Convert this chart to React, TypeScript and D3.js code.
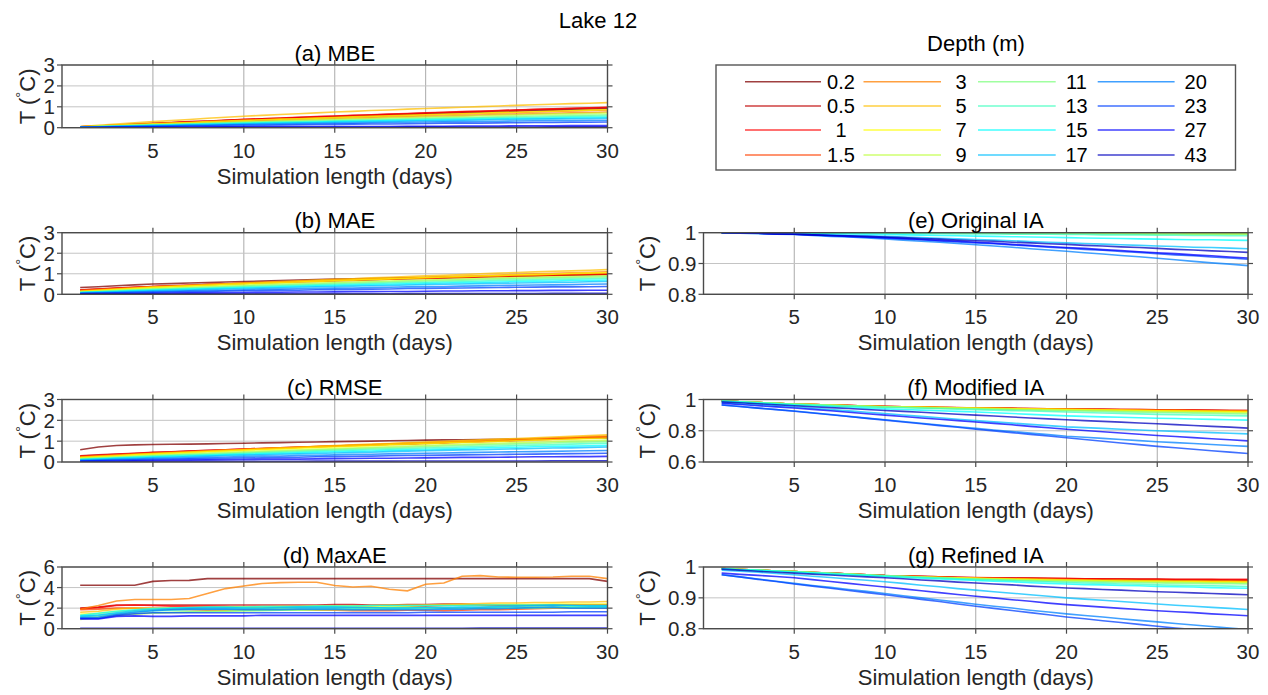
import React from 'react';
import * as d3 from 'd3';

const DAYS = [1,2,3,4,5,6,7,8,9,10,11,12,13,14,15,16,17,18,19,20,21,22,23,24,25,26,27,28,29,30];
const DEPTHS = ['0.2','0.5','1','1.5','3','5','7','9','11','13','15','17','20','23','27','43'];
const COLORS = ['rgb(128,0,0)','rgb(191,0,0)','rgb(255,0,0)','rgb(255,64,0)','rgb(255,128,0)','rgb(255,191,0)','rgb(255,255,0)','rgb(191,255,64)','rgb(128,255,128)','rgb(64,255,191)','rgb(0,255,255)','rgb(0,191,255)','rgb(0,128,255)','rgb(0,64,255)','rgb(0,0,255)','rgb(0,0,191)'];
const X_TICKS = [5,10,15,20,25,30];

// (a) MBE, one row per depth
const MBE: number[][] = [
  [.04,.08,.12,.16,.20,.23,.27,.30,.34,.37,.40,.43,.46,.49,.52,.55,.58,.60,.63,.66,.69,.71,.74,.76,.79,.82,.84,.87,.89,.92],
  [.04,.08,.12,.16,.20,.24,.28,.31,.35,.39,.42,.45,.49,.52,.55,.58,.61,.64,.67,.70,.73,.76,.78,.81,.84,.87,.89,.92,.94,.97],
  [.04,.08,.13,.17,.21,.25,.29,.32,.36,.40,.43,.46,.50,.53,.56,.59,.62,.65,.68,.71,.74,.77,.79,.82,.85,.88,.90,.93,.95,.98],
  [.04,.08,.11,.15,.18,.21,.24,.28,.31,.34,.37,.40,.42,.45,.48,.51,.53,.56,.58,.61,.63,.66,.68,.71,.73,.75,.78,.80,.83,.85],
  [.04,.07,.10,.13,.16,.19,.22,.24,.27,.30,.33,.35,.38,.40,.43,.45,.47,.50,.52,.54,.56,.58,.61,.63,.65,.67,.69,.71,.73,.75],
  [.05,.11,.17,.23,.29,.34,.39,.45,.50,.55,.59,.63,.67,.71,.75,.78,.82,.85,.89,.92,.95,.98,1.01,1.04,1.07,1.10,1.12,1.15,1.17,1.20],
  [.04,.08,.12,.15,.19,.22,.25,.29,.32,.35,.38,.41,.43,.46,.49,.52,.54,.57,.59,.62,.64,.67,.69,.72,.74,.76,.79,.81,.84,.86],
  [.03,.06,.09,.12,.15,.18,.20,.23,.25,.28,.30,.33,.35,.38,.40,.42,.44,.47,.49,.51,.53,.55,.57,.59,.61,.63,.65,.66,.68,.70],
  [.03,.06,.08,.11,.13,.15,.18,.20,.23,.25,.27,.29,.31,.33,.35,.37,.39,.41,.43,.45,.47,.49,.50,.52,.54,.56,.57,.59,.60,.62],
  [.03,.05,.07,.10,.12,.14,.16,.19,.21,.23,.25,.27,.28,.30,.32,.34,.36,.37,.39,.41,.43,.44,.46,.47,.49,.50,.52,.53,.55,.56],
  [.02,.04,.07,.09,.11,.13,.15,.16,.18,.20,.22,.24,.25,.27,.29,.31,.32,.34,.35,.37,.38,.40,.41,.43,.44,.45,.46,.48,.49,.50],
  [.02,.04,.06,.08,.10,.12,.13,.15,.16,.18,.20,.21,.23,.24,.26,.27,.29,.30,.32,.33,.34,.36,.37,.39,.40,.41,.42,.43,.44,.45],
  [.02,.03,.05,.06,.08,.09,.11,.12,.14,.15,.16,.17,.19,.20,.21,.22,.24,.25,.26,.27,.28,.29,.30,.31,.32,.33,.34,.34,.35,.36],
  [.01,.02,.04,.05,.06,.07,.08,.09,.10,.11,.12,.13,.14,.15,.16,.17,.18,.18,.19,.20,.21,.22,.22,.23,.24,.25,.25,.26,.26,.27],
  [.01,.01,.02,.02,.03,.03,.03,.04,.04,.04,.04,.05,.05,.05,.06,.06,.06,.06,.07,.07,.07,.08,.08,.08,.09,.09,.09,.10,.10,.10],
  [.01,.01,.01,.01,.01,.01,.01,.01,.02,.02,.02,.02,.02,.02,.02,.02,.02,.02,.03,.03,.03,.03,.03,.03,.03,.03,.04,.04,.04,.04],
];

// (b) MAE
const MAE: number[][] = [
  [.33,.37,.42,.46,.50,.52,.55,.57,.60,.62,.64,.67,.69,.72,.74,.76,.77,.79,.80,.82,.84,.85,.87,.88,.90,.91,.93,.94,.96,.97],
  [.22,.26,.30,.34,.38,.41,.44,.47,.50,.53,.56,.58,.61,.63,.66,.68,.70,.73,.75,.77,.79,.81,.84,.86,.88,.90,.92,.94,.96,.98],
  [.21,.25,.30,.34,.38,.41,.44,.48,.51,.54,.57,.60,.62,.65,.68,.70,.73,.75,.78,.80,.82,.84,.86,.88,.90,.92,.94,.96,.98,1.0],
  [.19,.24,.28,.33,.37,.40,.43,.47,.50,.53,.56,.59,.61,.64,.67,.70,.72,.75,.77,.80,.82,.84,.87,.89,.91,.93,.95,.98,1.0,1.02],
  [.17,.22,.27,.31,.36,.39,.43,.46,.50,.53,.56,.59,.63,.66,.69,.72,.75,.77,.80,.83,.86,.89,.91,.94,.97,1.0,1.02,1.05,1.07,1.10],
  [.15,.20,.25,.30,.35,.39,.43,.47,.51,.55,.59,.62,.66,.69,.73,.76,.80,.83,.87,.90,.93,.96,1.0,1.03,1.06,1.09,1.12,1.14,1.17,1.20],
  [.13,.18,.23,.28,.33,.36,.40,.43,.47,.50,.53,.56,.60,.63,.66,.69,.72,.75,.78,.81,.84,.86,.89,.91,.94,.96,.98,1.01,1.03,1.05],
  [.11,.15,.20,.24,.28,.31,.34,.38,.41,.44,.47,.50,.52,.55,.58,.60,.63,.65,.68,.70,.72,.74,.77,.79,.81,.83,.85,.86,.88,.90],
  [.10,.14,.18,.21,.25,.28,.31,.34,.37,.40,.43,.45,.48,.50,.53,.55,.58,.60,.63,.65,.67,.69,.72,.74,.76,.78,.80,.81,.83,.85],
  [.09,.12,.16,.19,.22,.25,.28,.30,.33,.36,.38,.41,.43,.46,.48,.50,.52,.55,.57,.59,.61,.63,.65,.67,.69,.71,.73,.74,.76,.78],
  [.08,.11,.14,.17,.20,.22,.25,.27,.30,.32,.34,.36,.39,.41,.43,.45,.47,.49,.51,.53,.55,.57,.58,.60,.62,.64,.65,.67,.68,.70],
  [.07,.10,.12,.15,.17,.19,.21,.24,.26,.28,.30,.32,.34,.36,.38,.40,.42,.43,.45,.47,.49,.50,.52,.53,.55,.56,.58,.59,.61,.62],
  [.05,.07,.09,.11,.13,.15,.17,.18,.20,.22,.24,.25,.27,.28,.30,.31,.33,.34,.36,.37,.38,.40,.41,.43,.44,.45,.46,.47,.49,.50],
  [.04,.06,.07,.09,.10,.11,.13,.14,.16,.17,.18,.19,.20,.22,.23,.24,.25,.26,.28,.29,.30,.31,.32,.33,.34,.35,.36,.36,.37,.38],
  [.02,.03,.04,.04,.05,.06,.07,.07,.08,.09,.10,.10,.11,.11,.12,.13,.13,.14,.14,.15,.16,.16,.17,.17,.18,.18,.19,.19,.20,.20],
  [.01,.01,.01,.02,.02,.02,.02,.02,.02,.02,.02,.02,.03,.03,.03,.03,.03,.03,.04,.04,.04,.04,.04,.04,.04,.04,.05,.05,.05,.05],
];

// (c) RMSE
const RMSE: number[][] = [
  [.59,.72,.79,.82,.84,.85,.86,.87,.89,.90,.92,.93,.95,.96,.98,.99,1.0,1.02,1.03,1.05,1.06,1.07,1.08,1.09,1.10,1.11,1.12,1.14,1.15,1.16],
  [.30,.34,.38,.42,.46,.49,.53,.56,.59,.62,.65,.68,.71,.73,.76,.79,.81,.84,.86,.89,.92,.95,.97,1.0,1.03,1.06,1.09,1.12,1.15,1.18],
  [.28,.32,.37,.41,.45,.48,.52,.55,.59,.62,.65,.68,.71,.74,.77,.80,.83,.85,.88,.91,.94,.97,.99,1.02,1.05,1.08,1.11,1.14,1.17,1.20],
  [.26,.30,.35,.39,.43,.46,.50,.53,.57,.60,.63,.66,.70,.73,.76,.79,.82,.85,.88,.91,.94,.97,1.0,1.03,1.06,1.09,1.12,1.15,1.18,1.21],
  [.24,.28,.33,.37,.41,.45,.49,.52,.56,.60,.63,.67,.70,.74,.77,.80,.83,.87,.90,.93,.96,.99,1.03,1.06,1.09,1.12,1.15,1.19,1.22,1.25],
  [.22,.27,.31,.36,.40,.44,.48,.52,.56,.60,.64,.68,.71,.75,.79,.82,.86,.89,.93,.96,.99,1.03,1.06,1.10,1.13,1.16,1.20,1.23,1.27,1.30],
  [.20,.25,.29,.34,.38,.42,.45,.49,.52,.56,.59,.62,.66,.69,.72,.75,.78,.82,.85,.88,.91,.94,.96,.99,1.02,1.05,1.07,1.10,1.12,1.15],
  [.17,.21,.25,.29,.33,.36,.40,.43,.46,.49,.52,.55,.58,.61,.64,.67,.70,.73,.76,.79,.82,.85,.87,.90,.93,.95,.97,1.0,1.02,1.05],
  [.15,.19,.23,.26,.30,.33,.36,.39,.42,.45,.48,.51,.54,.57,.60,.63,.66,.68,.71,.74,.77,.79,.82,.84,.87,.89,.91,.94,.96,.98],
  [.13,.17,.20,.24,.27,.30,.33,.35,.38,.41,.44,.47,.49,.52,.55,.57,.60,.62,.65,.67,.69,.72,.74,.77,.79,.81,.83,.86,.88,.90],
  [.11,.14,.18,.21,.24,.27,.29,.32,.34,.37,.39,.42,.44,.47,.49,.51,.53,.56,.58,.60,.62,.64,.67,.69,.71,.73,.75,.76,.78,.80],
  [.10,.13,.16,.18,.21,.23,.26,.28,.31,.33,.35,.37,.39,.41,.43,.45,.47,.50,.52,.54,.56,.58,.59,.61,.63,.65,.67,.68,.70,.72],
  [.07,.09,.12,.14,.16,.18,.20,.22,.24,.26,.28,.29,.31,.32,.34,.36,.37,.39,.40,.42,.43,.45,.46,.48,.49,.50,.51,.53,.54,.55],
  [.05,.07,.09,.10,.12,.13,.15,.16,.18,.19,.20,.22,.23,.25,.26,.27,.28,.30,.31,.32,.33,.34,.35,.36,.37,.38,.39,.40,.41,.42],
  [.03,.04,.05,.06,.07,.08,.09,.10,.11,.12,.13,.14,.14,.15,.16,.17,.18,.18,.19,.20,.21,.22,.22,.23,.24,.25,.25,.26,.26,.27],
  [.01,.01,.01,.02,.02,.02,.02,.03,.03,.03,.03,.03,.03,.04,.04,.04,.04,.04,.05,.05,.05,.05,.05,.05,.05,.05,.06,.06,.06,.06],
];

// (d) MaxAE
const MAXAE: number[][] = [
  [4.23,4.23,4.23,4.23,4.6,4.68,4.7,4.87,4.87,4.87,4.87,4.87,4.87,4.87,4.87,4.87,4.87,4.87,4.87,4.87,4.87,4.87,4.87,4.87,4.87,4.87,4.87,4.87,4.87,4.6],
  [2.0,2.1,2.3,2.3,2.3,2.3,2.3,2.3,2.3,2.3,2.3,2.3,2.3,2.3,2.35,2.35,2.3,2.3,2.35,2.35,2.4,2.4,2.3,2.3,2.3,2.3,2.3,2.3,2.3,2.3],
  [1.95,2.05,2.25,2.3,2.25,2.2,2.2,2.2,2.15,2.05,2.05,2.1,2.1,2.15,2.15,2.1,2.05,2.0,2.1,2.2,2.25,2.3,2.3,2.25,2.2,2.25,2.3,2.3,2.3,2.3],
  [1.85,1.9,2.0,2.0,1.95,1.9,1.85,1.8,1.8,1.85,1.9,1.9,1.85,1.8,1.8,1.75,1.75,1.75,1.8,1.8,1.75,1.8,1.85,1.85,1.9,1.95,2.0,2.0,2.0,2.0],
  [1.9,2.25,2.7,2.84,2.84,2.84,2.94,3.42,3.9,4.16,4.39,4.48,4.52,4.52,4.2,4.06,4.13,3.84,3.68,4.32,4.45,5.1,5.16,5.03,5.0,5.0,5.03,5.1,5.1,4.87],
  [1.6,1.7,1.9,2.0,2.0,2.0,2.05,2.1,2.1,2.1,2.15,2.15,2.15,2.2,2.2,2.2,2.25,2.3,2.3,2.3,2.35,2.4,2.45,2.5,2.5,2.55,2.55,2.6,2.6,2.65],
  [1.4,1.5,1.7,1.8,1.9,2.0,2.0,2.05,2.1,2.1,2.1,2.15,2.15,2.2,2.2,2.2,2.2,2.15,2.2,2.25,2.25,2.3,2.3,2.35,2.35,2.35,2.4,2.4,2.4,2.4],
  [0.9,1.1,1.3,1.4,1.5,1.55,1.6,1.65,1.7,1.75,1.8,1.8,1.85,1.85,1.9,1.9,1.95,1.95,2.0,2.0,2.0,2.05,2.05,2.1,2.1,2.1,2.1,2.15,2.15,2.15],
  [1.1,1.2,1.4,1.5,1.55,1.6,1.65,1.7,1.7,1.75,1.75,1.8,1.8,1.85,1.85,1.85,1.9,1.9,1.9,1.95,1.95,1.95,2.0,2.0,2.0,2.0,2.05,2.05,2.05,2.1],
  [1.2,1.35,1.5,1.65,1.75,1.8,1.85,1.9,1.9,1.95,1.95,1.95,2.0,2.0,2.0,2.0,2.0,2.05,2.05,2.05,2.05,2.05,2.05,2.1,2.1,2.1,2.1,2.1,2.1,2.1],
  [1.3,1.5,1.7,1.85,1.95,2.0,2.05,2.1,2.1,2.1,2.15,2.15,2.15,2.2,2.2,2.2,2.25,2.25,2.25,2.25,2.25,2.25,2.3,2.3,2.3,2.3,2.3,2.25,2.25,2.25],
  [1.2,1.3,1.55,1.75,1.85,1.95,2.0,2.05,2.05,2.0,2.0,2.05,2.1,2.1,2.1,2.05,2.05,2.0,2.0,2.05,2.05,2.1,2.1,2.15,2.2,2.25,2.3,2.25,2.2,2.2],
  [1.05,1.1,1.4,1.6,1.75,1.85,1.9,1.9,1.9,1.85,1.85,1.85,1.9,1.9,1.9,1.85,1.85,1.85,1.85,1.85,1.9,1.9,1.95,1.95,2.0,2.05,2.1,2.0,2.0,2.0],
  [1.0,1.0,1.3,1.45,1.55,1.55,1.55,1.55,1.55,1.55,1.55,1.55,1.55,1.55,1.55,1.55,1.55,1.55,1.55,1.6,1.6,1.6,1.6,1.6,1.6,1.6,1.6,1.65,1.65,1.65],
  [0.95,0.95,1.2,1.25,1.2,1.2,1.25,1.25,1.25,1.25,1.3,1.3,1.3,1.3,1.3,1.3,1.3,1.3,1.3,1.3,1.3,1.3,1.3,1.3,1.3,1.3,1.3,1.3,1.3,1.3],
  [.03,.03,.03,.03,.03,.04,.04,.04,.04,.04,.04,.04,.04,.05,.05,.05,.05,.05,.05,.05,.05,.05,.06,.06,.06,.06,.06,.06,.06,.06],
];

// (e) Original IA
const ORIG_IA: number[][] = [
  [1,1,1,1,1,1,1,1,1,1,.999,.999,.999,.999,.999,.999,.999,.999,.999,.999,.999,.999,.999,.999,.999,.999,.999,.999,.999,.999],
  [1,1,1,1,1,1,1,1,1,.999,.999,.999,.999,.999,.999,.999,.999,.999,.999,.999,.999,.999,.998,.998,.998,.998,.998,.998,.998,.998],
  [1,1,1,1,1,1,1,1,1,.999,.999,.999,.999,.999,.999,.999,.999,.999,.999,.999,.999,.999,.998,.998,.998,.998,.998,.998,.998,.998],
  [1,1,1,1,1,1,1,1,.999,.999,.999,.999,.999,.999,.999,.999,.999,.999,.999,.999,.998,.998,.998,.998,.998,.998,.998,.998,.998,.998],
  [1,1,1,1,1,1,1,.999,.999,.999,.999,.999,.999,.999,.999,.999,.999,.998,.998,.998,.998,.998,.998,.998,.998,.998,.997,.997,.997,.997],
  [1,1,1,1,1,1,.999,.999,.999,.999,.999,.999,.999,.999,.999,.998,.998,.998,.998,.998,.998,.998,.998,.997,.997,.997,.997,.997,.997,.997],
  [1,1,1,1,1,1,.999,.999,.999,.999,.999,.999,.999,.999,.999,.998,.998,.998,.998,.998,.998,.998,.998,.997,.997,.997,.997,.997,.997,.997],
  [1,1,1,1,1,1,1,1,.999,.999,.999,.999,.999,.999,.999,.998,.998,.998,.998,.998,.998,.998,.998,.997,.997,.997,.997,.997,.997,.997],
  [1,1,1,1,1,1,.999,.999,.999,.999,.999,.998,.998,.998,.998,.998,.997,.997,.997,.997,.997,.996,.996,.996,.996,.996,.995,.995,.995,.995],
  [1,1,1,1,.999,.999,.999,.998,.998,.998,.997,.997,.997,.996,.996,.996,.995,.995,.995,.994,.994,.993,.993,.993,.992,.992,.991,.991,.990,.990],
  [1,1,.999,.999,.998,.997,.996,.996,.995,.994,.993,.992,.991,.990,.989,.988,.987,.986,.985,.984,.983,.982,.981,.980,.979,.978,.977,.977,.976,.975],
  [1,.999,.998,.997,.996,.994,.993,.991,.990,.988,.986,.984,.982,.980,.978,.976,.974,.971,.969,.967,.965,.963,.961,.959,.957,.955,.953,.952,.950,.948],
  [1,.998,.997,.995,.994,.991,.988,.986,.983,.980,.976,.972,.969,.965,.961,.957,.953,.948,.944,.940,.935,.931,.926,.922,.917,.912,.907,.902,.898,.893],
  [1,.999,.998,.996,.995,.993,.990,.988,.985,.983,.980,.977,.973,.970,.967,.964,.960,.957,.953,.950,.946,.943,.939,.936,.932,.928,.925,.921,.918,.914],
  [1,.999,.998,.996,.995,.993,.991,.988,.986,.984,.981,.978,.975,.972,.969,.966,.962,.959,.955,.952,.949,.945,.942,.938,.935,.932,.928,.925,.921,.918],
  [1,.999,.998,.996,.995,.993,.991,.990,.988,.986,.984,.981,.979,.976,.974,.972,.969,.967,.964,.962,.959,.957,.954,.952,.949,.946,.944,.941,.939,.936],
];

// (f) Modified IA
const MOD_IA: number[][] = [
  [.990,.985,.980,.975,.970,.967,.964,.961,.958,.955,.953,.951,.949,.947,.945,.944,.942,.941,.939,.938,.937,.935,.934,.933,.932,.931,.930,.929,.928,.927],
  [.990,.985,.980,.975,.970,.967,.964,.961,.958,.955,.953,.951,.949,.947,.946,.945,.943,.942,.940,.939,.938,.937,.936,.935,.934,.933,.932,.931,.930,.929],
  [.990,.985,.980,.975,.970,.967,.964,.961,.958,.955,.953,.951,.949,.948,.946,.945,.943,.942,.940,.939,.938,.937,.936,.935,.934,.933,.932,.931,.930,.929],
  [.990,.985,.980,.975,.970,.967,.964,.961,.958,.955,.953,.951,.949,.947,.946,.944,.943,.941,.940,.939,.938,.936,.935,.934,.933,.932,.931,.930,.929,.928],
  [.990,.985,.980,.975,.970,.967,.964,.961,.958,.955,.953,.951,.949,.947,.945,.943,.941,.940,.938,.936,.935,.934,.933,.931,.930,.929,.928,.928,.927,.926],
  [.990,.985,.980,.975,.970,.967,.964,.960,.957,.954,.952,.950,.949,.947,.945,.943,.942,.940,.939,.937,.936,.934,.933,.931,.930,.929,.928,.926,.925,.924],
  [.990,.985,.980,.975,.970,.967,.964,.960,.957,.954,.952,.950,.948,.946,.944,.942,.941,.939,.938,.936,.934,.933,.931,.930,.928,.926,.925,.923,.922,.920],
  [.990,.985,.980,.975,.970,.967,.963,.960,.956,.953,.951,.949,.946,.944,.942,.940,.938,.936,.934,.932,.930,.928,.926,.924,.922,.920,.919,.917,.916,.914],
  [.990,.985,.980,.975,.970,.966,.963,.959,.956,.952,.950,.947,.945,.942,.940,.938,.935,.933,.930,.928,.926,.924,.921,.919,.917,.915,.913,.911,.909,.907],
  [.990,.985,.980,.975,.970,.966,.962,.958,.954,.950,.947,.944,.941,.938,.935,.932,.929,.926,.923,.920,.917,.914,.911,.908,.905,.903,.901,.899,.897,.895],
  [.990,.984,.978,.971,.965,.960,.955,.950,.945,.940,.936,.932,.928,.924,.920,.915,.910,.905,.900,.895,.892,.889,.886,.883,.880,.878,.875,.873,.870,.868],
  [.980,.973,.966,.959,.952,.944,.935,.927,.918,.910,.901,.892,.883,.874,.865,.857,.849,.841,.833,.825,.820,.815,.810,.805,.800,.796,.792,.788,.784,.780],
  [.965,.955,.945,.936,.926,.915,.904,.892,.881,.870,.859,.848,.837,.826,.815,.805,.795,.785,.775,.765,.758,.751,.744,.737,.730,.724,.718,.712,.706,.700],
  [.965,.955,.945,.935,.925,.914,.902,.891,.879,.868,.856,.845,.833,.822,.810,.799,.788,.777,.766,.755,.744,.733,.722,.711,.700,.691,.682,.672,.663,.654],
  [.975,.968,.960,.953,.946,.937,.928,.918,.909,.900,.891,.882,.874,.865,.856,.847,.838,.828,.819,.810,.802,.794,.786,.778,.770,.763,.756,.749,.742,.735],
  [.985,.979,.973,.966,.960,.954,.948,.942,.936,.930,.924,.918,.912,.906,.900,.894,.888,.882,.876,.870,.865,.860,.855,.850,.845,.839,.834,.828,.823,.817],
];

// (g) Refined IA
const REF_IA: number[][] = [
  [.995,.992,.990,.987,.985,.982,.980,.977,.975,.972,.971,.969,.968,.966,.965,.964,.963,.963,.962,.961,.961,.960,.960,.959,.959,.958,.958,.958,.957,.957],
  [.995,.992,.990,.987,.985,.982,.980,.977,.975,.972,.971,.969,.968,.966,.965,.964,.964,.963,.963,.962,.962,.961,.961,.960,.960,.959,.959,.959,.958,.958],
  [.995,.992,.990,.987,.985,.982,.980,.977,.975,.972,.971,.970,.968,.967,.966,.965,.964,.964,.963,.963,.962,.962,.961,.961,.961,.960,.960,.960,.960,.960],
  [.995,.992,.990,.987,.985,.982,.980,.977,.975,.972,.971,.969,.967,.966,.964,.963,.962,.961,.960,.959,.959,.958,.958,.957,.957,.956,.956,.956,.955,.955],
  [.995,.992,.990,.987,.985,.982,.980,.977,.975,.972,.970,.968,.967,.965,.964,.963,.962,.961,.960,.959,.958,.957,.957,.956,.956,.955,.955,.954,.954,.953],
  [.995,.992,.990,.987,.985,.982,.979,.977,.974,.971,.970,.968,.966,.965,.963,.962,.961,.960,.959,.958,.957,.956,.956,.955,.955,.954,.954,.953,.953,.952],
  [.995,.992,.990,.987,.985,.982,.979,.977,.974,.971,.969,.967,.966,.964,.963,.961,.960,.959,.958,.957,.956,.955,.954,.954,.953,.952,.952,.951,.951,.950],
  [.995,.992,.990,.987,.985,.982,.979,.976,.974,.971,.969,.967,.965,.964,.962,.961,.959,.958,.957,.956,.955,.954,.953,.952,.951,.951,.950,.949,.949,.948],
  [.995,.992,.989,.987,.984,.981,.978,.976,.973,.970,.968,.966,.964,.962,.960,.959,.957,.956,.954,.953,.952,.951,.950,.949,.948,.947,.947,.946,.946,.945],
  [.995,.992,.990,.987,.985,.982,.980,.977,.975,.972,.970,.967,.965,.962,.960,.958,.956,.954,.952,.950,.948,.947,.945,.944,.942,.941,.940,.939,.938,.937],
  [.994,.991,.989,.986,.983,.980,.977,.975,.972,.969,.966,.964,.961,.959,.956,.954,.952,.949,.947,.945,.943,.942,.940,.939,.937,.936,.935,.933,.932,.931],
  [.990,.986,.983,.979,.975,.970,.966,.961,.957,.952,.947,.941,.936,.930,.925,.920,.915,.910,.905,.900,.896,.892,.888,.884,.880,.876,.873,.869,.866,.862],
  [.975,.968,.961,.954,.947,.940,.934,.927,.921,.914,.907,.900,.893,.886,.879,.873,.867,.860,.854,.848,.843,.838,.832,.827,.822,.817,.812,.807,.802,.797],
  [.975,.968,.960,.953,.945,.938,.931,.924,.917,.910,.903,.895,.888,.880,.873,.866,.859,.852,.845,.838,.832,.826,.820,.814,.808,.802,.797,.791,.786,.780],
  [.980,.976,.973,.969,.965,.959,.953,.947,.941,.935,.929,.923,.917,.911,.905,.900,.894,.889,.883,.878,.874,.870,.866,.862,.858,.855,.852,.848,.845,.842],
  [.993,.990,.986,.983,.980,.977,.974,.971,.968,.965,.962,.958,.955,.951,.948,.945,.942,.938,.935,.932,.930,.927,.925,.922,.920,.918,.916,.914,.912,.910],
];

const FONT = '"Liberation Sans", Arial, Helvetica, sans-serif';
const TXT = '#262626';
const TICK_FS = 20.5;

type PanelSpec = {
  id: string; title: string; data: number[][]; domain: [number, number]; yTicks: number[];
  x0: number; x1: number; y0: number; y1: number; labelX: number;
};

const LX0 = 62, LX1 = 607.5, RX0 = 703.5, RX1 = 1248;
const ROWS = [[65, 127.7], [232.7, 294.3], [399.5, 462], [567, 628.7]];

const PANELS: PanelSpec[] = [
  { id: 'a', title: '(a) MBE', data: MBE, domain: [0, 3], yTicks: [0, 1, 2, 3], x0: LX0, x1: LX1, y0: ROWS[0][0], y1: ROWS[0][1], labelX: 27 },
  { id: 'b', title: '(b) MAE', data: MAE, domain: [0, 3], yTicks: [0, 1, 2, 3], x0: LX0, x1: LX1, y0: ROWS[1][0], y1: ROWS[1][1], labelX: 27 },
  { id: 'c', title: '(c) RMSE', data: RMSE, domain: [0, 3], yTicks: [0, 1, 2, 3], x0: LX0, x1: LX1, y0: ROWS[2][0], y1: ROWS[2][1], labelX: 27 },
  { id: 'd', title: '(d) MaxAE', data: MAXAE, domain: [0, 6], yTicks: [0, 2, 4, 6], x0: LX0, x1: LX1, y0: ROWS[3][0], y1: ROWS[3][1], labelX: 27 },
  { id: 'e', title: '(e) Original IA', data: ORIG_IA, domain: [0.8, 1], yTicks: [0.8, 0.9, 1], x0: RX0, x1: RX1, y0: ROWS[1][0], y1: ROWS[1][1], labelX: 647 },
  { id: 'f', title: '(f) Modified IA', data: MOD_IA, domain: [0.6, 1], yTicks: [0.6, 0.8, 1], x0: RX0, x1: RX1, y0: ROWS[2][0], y1: ROWS[2][1], labelX: 647 },
  { id: 'g', title: '(g) Refined IA', data: REF_IA, domain: [0.8, 1], yTicks: [0.8, 0.9, 1], x0: RX0, x1: RX1, y0: ROWS[3][0], y1: ROWS[3][1], labelX: 647 },
];

function Panel({ p }: { p: PanelSpec }) {
  const xs = d3.scaleLinear().domain([0, 30]).range([p.x0, p.x1]);
  const ys = d3.scaleLinear().domain(p.domain).range([p.y1, p.y0]);
  const line = d3.line<number>().x((_, i) => xs(DAYS[i])).y((v) => ys(v));
  const tl = 5;
  const cy = (p.y0 + p.y1) / 2;
  return (
    <g>
      <defs>
        <clipPath id={`clip-${p.id}`}>
          <rect x={p.x0} y={p.y0} width={p.x1 - p.x0} height={p.y1 - p.y0} />
        </clipPath>
      </defs>
      <rect x={p.x0} y={p.y0} width={p.x1 - p.x0} height={p.y1 - p.y0} fill="#fff" />
      {X_TICKS.map((t) => (
        <line key={`gx${t}`} x1={xs(t)} x2={xs(t)} y1={p.y0} y2={p.y1} stroke="#aaaaaa" strokeWidth={1} />
      ))}
      {p.yTicks.map((t) => (
        <line key={`gy${t}`} x1={p.x0} x2={p.x1} y1={ys(t)} y2={ys(t)} stroke="#c4c4c4" strokeWidth={1} />
      ))}
      <g clipPath={`url(#clip-${p.id})`}>
        {p.data.map((s, i) => (
          <path key={i} d={line(s) || ''} fill="none" stroke={COLORS[i]} strokeOpacity={0.75} strokeWidth={1.6} />
        ))}
      </g>
      <rect x={p.x0} y={p.y0} width={p.x1 - p.x0} height={p.y1 - p.y0} fill="none" stroke="#4a4a4a" strokeWidth={1.4} />
      {X_TICKS.map((t) => (
        <g key={`tx${t}`}>
          <line x1={xs(t)} x2={xs(t)} y1={p.y1} y2={p.y1 + tl} stroke="#4a4a4a" strokeWidth={1.2} />
          <line x1={xs(t)} x2={xs(t)} y1={p.y0} y2={p.y0 - tl} stroke="#4a4a4a" strokeWidth={1.2} />
          <text x={xs(t)} y={p.y1 + 30} textAnchor="middle" fontSize={TICK_FS} fill={TXT} fontFamily={FONT}>{t}</text>
        </g>
      ))}
      {p.yTicks.map((t) => (
        <g key={`ty${t}`}>
          <line x1={p.x0 - tl} x2={p.x0} y1={ys(t)} y2={ys(t)} stroke="#4a4a4a" strokeWidth={1.2} />
          <line x1={p.x1} x2={p.x1 + tl} y1={ys(t)} y2={ys(t)} stroke="#4a4a4a" strokeWidth={1.2} />
          <text x={p.x0 - 7} y={ys(t)} dy="0.36em" textAnchor="end" fontSize={TICK_FS} fill={TXT} fontFamily={FONT}>{String(t)}</text>
        </g>
      ))}
      <text x={(p.x0 + p.x1) / 2} y={p.y0 - 4.5} textAnchor="middle" fontSize={22} fill="#000" fontFamily={FONT}>{p.title}</text>
      <text x={(p.x0 + p.x1) / 2} y={p.y1 + 56} textAnchor="middle" fontSize={22} fill={TXT} fontFamily={FONT}>Simulation length (days)</text>
      <text transform={`translate(${p.labelX},${cy}) rotate(-90)`} textAnchor="middle" dy="0.36em" fontSize={22} fill={TXT} fontFamily={FONT}>
        T (<tspan fontSize={15} dy={-9}>°</tspan><tspan dy={9}>C)</tspan>
      </text>
    </g>
  );
}

function Legend() {
  const colLine = [[745, 821], [863.5, 941], [978, 1055.7], [1097.7, 1174.6]];
  const colLabel = [841, 961, 1076.5, 1195.7];
  const rowY = [81.7, 106, 130, 155];
  return (
    <g>
      <text x={976} y={51} textAnchor="middle" fontSize={22} fill="#000" fontFamily={FONT}>Depth (m)</text>
      <rect x={716} y={65} width={1235.5 - 716} height={170 - 65} fill="#fff" stroke="#555" strokeWidth={1.4} />
      {DEPTHS.map((dep, i) => {
        const c = Math.floor(i / 4), r = i % 4;
        return (
          <g key={dep}>
            <line x1={colLine[c][0]} x2={colLine[c][1]} y1={rowY[r]} y2={rowY[r]} stroke={COLORS[i]} strokeOpacity={0.75} strokeWidth={1.6} />
            <text x={colLabel[c]} y={rowY[r]} dy="0.36em" textAnchor="middle" fontSize={20} fill="#000" fontFamily={FONT}>{dep}</text>
          </g>
        );
      })}
    </g>
  );
}

export default function App() {
  return (
    <svg width={1268} height={695} style={{ position: 'absolute', left: 0, top: 0, background: '#fff' }}>
      <rect x={0} y={0} width={1268} height={695} fill="#fff" />
      <text x={598} y={28} textAnchor="middle" fontSize={22} fill="#000" fontFamily={FONT}>Lake 12</text>
      {PANELS.map((p) => <Panel key={p.id} p={p} />)}
      <Legend />
    </svg>
  );
}
